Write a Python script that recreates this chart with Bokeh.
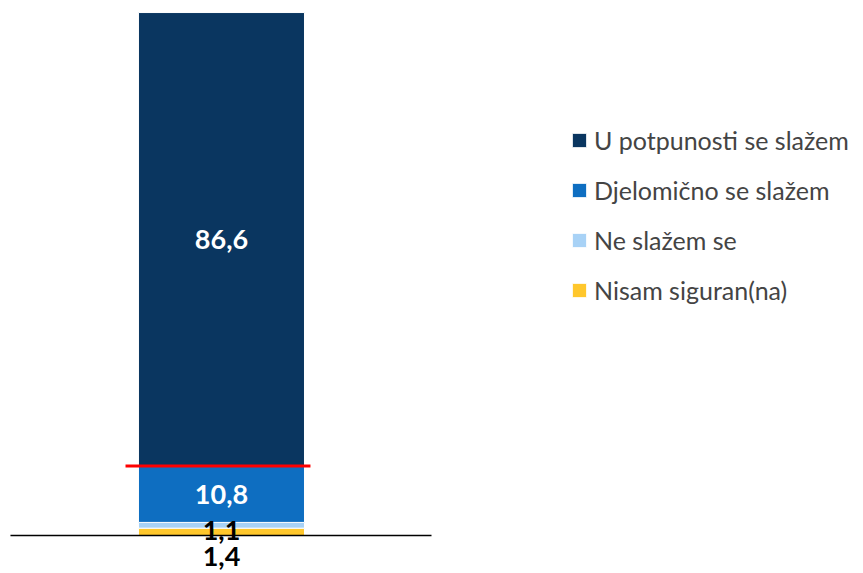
import numpy as np
from bokeh.plotting import figure
from bokeh.models import ColumnDataSource, Range1d, Legend, LegendItem
from bokeh.core.properties import value
from bokeh.embed import file_html
from bokeh.resources import INLINE

# ---- data ----
categories = ["Nisam siguran(na)", "Ne slažem se", "Djelomično se slažem", "U potpunosti se slažem"]
values = [1.4, 1.1, 10.8, 86.6]
value_labels = ["1,4", "1,1", "10,8", "86,6"]
colors = ["#ffc72c", "#a8d2f6", "#0e6ec1", "#0a3660"]
label_colors = ["black", "black", "white", "white"]
label_offsets = [25, 5, 0, 0]  # px downward shift of the label

FONT = "Lato"

p = figure(width=860, height=573, output_backend="svg", toolbar_location=None,
           x_range=Range1d(-1.331, 3.849), y_range=Range1d(-7.259, 102.2),
           min_border_left=0, min_border_right=0, min_border_top=0, min_border_bottom=0)
p.axis.visible = False
p.grid.visible = False
p.outline_line_color = None
p.background_fill_color = "white"
p.border_fill_color = "white"

keys = [f"s{i}" for i in range(len(values))]
src = ColumnDataSource({"x": [0], **{k: [v] for k, v in zip(keys, values)}})
renderers = p.vbar_stack(keys, x="x", width=1.0, color=colors, line_color="white",
                         line_width=1, source=src)

# baseline (category axis line)
p.segment(x0=[-1.271], x1=[1.265], y0=[0], y1=[0], line_color="black", line_width=1.5)

# red marker line at top of the "Djelomično" segment
cum = np.cumsum(values)
p.segment(x0=[-0.578], x1=[0.536], y0=[cum[2]], y1=[cum[2]], line_color="#ff0000", line_width=3)

# value labels
centers = cum - np.array(values) / 2
lab = ColumnDataSource({"x": [0] * len(values), "y": list(centers), "t": value_labels,
                        "c": label_colors, "o": label_offsets})
p.text(x="x", y="y", text="t", text_color="c", y_offset="o", source=lab,
       text_font=value(FONT), text_font_style="bold", text_font_size="27px",
       text_align="center", text_baseline="middle")

items = [LegendItem(label=categories[i], renderers=[renderers[i]]) for i in reversed(range(len(values)))]
legend = Legend(items=items, location=(570, 268), orientation="vertical",
                label_text_font=FONT, label_text_font_size="25px",
                glyph_width=18, glyph_height=18, label_standoff=6,
                label_height=30, spacing=20, padding=0, margin=0,
                border_line_color=None, background_fill_alpha=0)
p.add_layout(legend, "center")

open("out.html", "w").write(file_html(p, INLINE))
